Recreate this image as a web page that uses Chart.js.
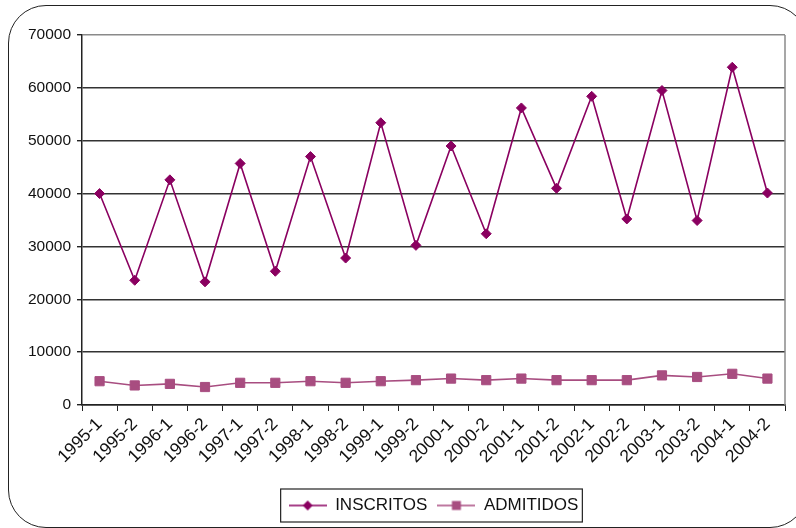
<!DOCTYPE html>
<html>
<head>
<meta charset="utf-8">
<script src="https://cdn.jsdelivr.net/npm/chart.js@4.4.1/dist/chart.umd.min.js"></script>
<style>
  html, body { margin: 0; padding: 0; background: #fff; overflow: hidden; }
  #wrap { position: relative; width: 796px; height: 528px; overflow: hidden; }
  #frame {
    position: absolute; left: 8px; top: 5px; width: 800px; height: 523px;
    border: 1.5px solid #222; border-radius: 38px; box-sizing: border-box;
  }
  canvas { position: absolute; left: 0; top: 0; }
</style>
</head>
<body>
<div id="wrap">
  <div id="frame"></div>
  <canvas id="chart" width="796" height="528"></canvas>
</div>
<script>
// Semesters
const periodos = ['1995-1', '1995-2', '1996-1', '1996-2', '1997-1', '1997-2', '1998-1', '1998-2',
    '1999-1', '1999-2', '2000-1', '2000-2', '2001-1', '2001-2', '2002-1', '2002-2',
    '2003-1', '2003-2', '2004-1', '2004-2'];

const inscritos = [40000, 23600, 42600, 23300, 45700, 25300, 47000, 27800, 53400, 30200,
    49000, 32400, 56200, 41000, 58400, 35200, 59500, 34900, 63900, 40100];

const admitidos = [4500, 3700, 4000, 3400, 4200, 4200, 4500, 4200, 4500, 4700,
    5000, 4700, 5000, 4700, 4700, 4700, 5600, 5300, 5900, 5000];

const yTicks = [0, 10000, 20000, 30000, 40000, 50000, 60000, 70000];

const colInscritos = '#8a0060';
const colAdmitidos = '#a84d80';
const fontFamily = 'Liberation Sans, Arial, sans-serif';

// legend swatch: short line with the marker in the middle
function swatch(color, shape) {
    const c = document.createElement('canvas');
    c.width = 38; c.height = 14;
    const g = c.getContext('2d');
    g.strokeStyle = color;
    g.lineWidth = 1.5;
    g.beginPath();
    g.moveTo(0, 7); g.lineTo(38, 7);
    g.stroke();
    g.fillStyle = color;
    g.beginPath();
    if (shape === 'diamond') {
        g.moveTo(19, 2); g.lineTo(24, 7); g.lineTo(19, 12); g.lineTo(14, 7);
    } else {
        g.rect(14.5, 2.5, 9, 9);
    }
    g.closePath();
    g.fill();
    return c;
}

const swatches = [swatch(colInscritos, 'diamond'), swatch(colAdmitidos, 'square')];

// legend centred under the plot area instead of the whole canvas
const legendShift = {
    id: 'legendShift',
    afterLayout(chart) {
        const lg = chart.legend, area = chart.chartArea;
        const dx = (area.left + area.right) / 2 - (lg.left + lg.right) / 2;
        lg.left += dx;
        lg.right += dx;
        lg.legendHitBoxes.forEach(b => { b.left += dx; });
    }
};

// right plot border and box around the legend
const framePlugin = {
    id: 'framePlugin',
    afterDraw(chart) {
        const { ctx, chartArea } = chart;
        ctx.save();
        ctx.strokeStyle = '#8a8a8a';
        ctx.lineWidth = 1.5;
        ctx.beginPath();
        ctx.moveTo(chartArea.right, chartArea.top);
        ctx.lineTo(chartArea.right, chartArea.bottom);
        ctx.stroke();

        const boxes = chart.legend.legendHitBoxes;
        if (boxes && boxes.length) {
            const left = Math.min(...boxes.map(b => b.left)) - 8;
            const right = Math.max(...boxes.map(b => b.left + b.width)) + 4;
            const top = Math.min(...boxes.map(b => b.top)) - 8;
            const bottom = Math.max(...boxes.map(b => b.top + b.height)) + 8;
            ctx.strokeStyle = '#222';
            ctx.lineWidth = 1.2;
            ctx.strokeRect(left, top, right - left, bottom - top);
        }
        ctx.restore();
    }
};

const ctx = document.getElementById('chart').getContext('2d');

new Chart(ctx, {
    type: 'line',
    data: {
        labels: periodos,
        datasets: [{
            label: 'INSCRITOS',
            data: inscritos,
            borderColor: colInscritos,
            backgroundColor: colInscritos,
            borderWidth: 1.6,
            pointStyle: 'rectRot',
            pointRadius: 5,
            pointBorderWidth: 1,
            tension: 0
        }, {
            label: 'ADMITIDOS',
            data: admitidos,
            borderColor: colAdmitidos,
            backgroundColor: colAdmitidos,
            borderWidth: 1.6,
            pointStyle: 'rect',
            pointRadius: 6.5,
            pointBorderWidth: 1,
            tension: 0
        }]
    },
    options: {
        responsive: false,
        animation: false,
        layout: {
            padding: { left: 0, right: 11, top: 35, bottom: 4 }
        },
        plugins: {
            legend: {
                position: 'bottom',
                labels: {
                    color: '#111',
                    font: { family: fontFamily, size: 17 },
                    usePointStyle: true,
                    pointStyleWidth: 38,
                    padding: 10,
                    generateLabels(chart) {
                        return chart.data.datasets.map((ds, i) => ({
                            text: ds.label,
                            datasetIndex: i,
                            pointStyle: swatches[i],
                            fillStyle: ds.backgroundColor,
                            strokeStyle: ds.borderColor,
                            lineWidth: 0,
                            fontColor: '#111',
                            hidden: false
                        }));
                    }
                }
            },
            tooltip: { enabled: false }
        },
        scales: {
            x: {
                offset: true,
                afterFit(scale) { scale.height = 82; },
                grid: {
                    display: true,
                    offset: true,
                    drawOnChartArea: false,
                    drawTicks: true,
                    tickLength: 6,
                    color: '#222'
                },
                border: { color: '#222', width: 1.5 },
                ticks: {
                    color: '#111',
                    font: { family: fontFamily, size: 17.5 },
                    maxRotation: 45,
                    minRotation: 45,
                    autoSkip: false,
                    padding: 3
                }
            },
            y: {
                min: 0,
                max: 70000,
                afterFit(scale) { scale.width = 82; },
                afterBuildTicks(scale) {
                    scale.ticks = yTicks.map(v => ({ value: v }));
                },
                grid: {
                    color: c => (c.tick && c.tick.value === 70000) ? '#8a8a8a' : '#333',
                    lineWidth: 1.4,
                    tickLength: 5,
                    tickColor: '#222'
                },
                border: { color: '#222', width: 1.5 },
                ticks: {
                    color: '#111',
                    font: { family: fontFamily, size: 15.5 },
                    padding: 6,
                    callback: v => String(v)
                }
            }
        }
    },
    plugins: [legendShift, framePlugin]
});
</script>
</body>
</html>
